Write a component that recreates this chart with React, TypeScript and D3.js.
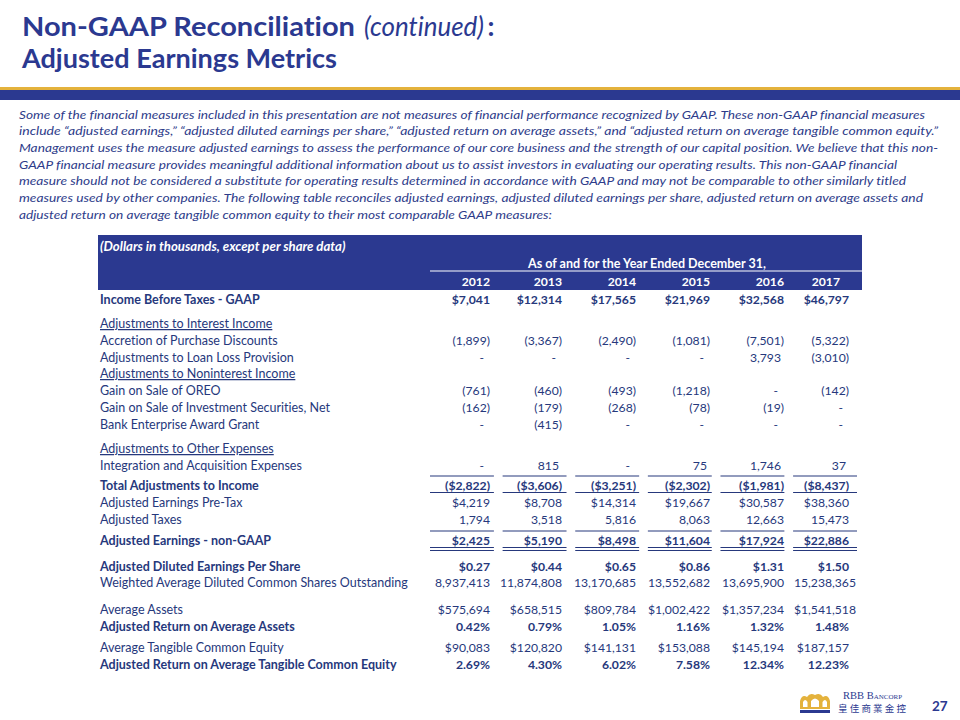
import React from "react";
import * as d3 from "d3";

// ---------- data ----------
const years = ["2012", "2013", "2014", "2015", "2016", "2017"];

const incomeBeforeTaxes = [7041, 12314, 17565, 21969, 32568, 46797];
const accretionPurchaseDiscounts = [-1899, -3367, -2490, -1081, -7501, -5322];
const loanLossProvisionAdj = [null, null, null, null, 3793, -3010];
const gainOnSaleOREO = [-761, -460, -493, -1218, null, -142];
const gainOnSaleInvestmentSecurities = [-162, -179, -268, -78, -19, null];
const bankEnterpriseAwardGrant = [null, -415, null, null, null, null];
const integrationAcquisitionExpenses = [null, 815, null, 75, 1746, 37];
const totalAdjustments = [-2822, -3606, -3251, -2302, -1981, -8437];
const adjustedEarningsPreTax = [4219, 8708, 14314, 19667, 30587, 38360];
const adjustedTaxes = [1794, 3518, 5816, 8063, 12663, 15473];
const adjustedEarningsNonGAAP = [2425, 5190, 8498, 11604, 17924, 22886];
const adjustedDilutedEPS = [0.27, 0.44, 0.65, 0.86, 1.31, 1.5];
const weightedAvgDilutedShares = [8937413, 11874808, 13170685, 13552682, 13695900, 15238365];
const averageAssets = [575694, 658515, 809784, 1002422, 1357234, 1541518];
const adjustedROAA = [0.42, 0.79, 1.05, 1.16, 1.32, 1.48];
const averageTangibleCommonEquity = [90083, 120820, 141131, 153088, 145194, 187157];
const adjustedROATCE = [2.69, 4.3, 6.02, 7.58, 12.34, 12.23];

const paragraphLines = [
  "Some of the financial measures included in this presentation are not measures of financial performance recognized by GAAP. These non-GAAP financial measures",
  "include \u201cadjusted earnings,\u201d \u201cadjusted diluted earnings per share,\u201d \u201cadjusted return on average assets,\u201d and \u201cadjusted return on average tangible common equity.\u201d",
  "Management uses the measure adjusted earnings to assess the performance of our core business and the strength of our capital position. We believe that this non-",
  "GAAP financial measure provides meaningful additional information about us to assist investors in evaluating our operating results. This non-GAAP financial",
  "measure should not be considered a substitute for operating results determined in accordance with GAAP and may not be comparable to other similarly titled",
  "measures used by other companies. The following table reconciles adjusted earnings, adjusted diluted earnings per share, adjusted return on average assets and",
  "adjusted return on average tangible common equity to their most comparable GAAP measures:",
];
const paragraphLineEnds = [925, 938, 938, 897, 906, 923, 552];

// ---------- formatting ----------
const comma = d3.format(",");
type Fmt = "dollar" | "acct" | "dollarParen" | "eps" | "pct" | "int";
function fmt(v: number | null, f: Fmt): string {
  if (v === null) return "-";
  switch (f) {
    case "dollar":
      return "$" + comma(v);
    case "acct":
      return v < 0 ? `(${comma(-v)})` : comma(v);
    case "dollarParen":
      return v < 0 ? `($${comma(-v)})` : "$" + comma(v);
    case "eps":
      return "$" + d3.format(".2f")(v);
    case "pct":
      return d3.format(".2f")(v) + "%";
    case "int":
      return comma(v);
  }
}

type Row = {
  label: string;
  values?: (number | null)[];
  f?: Fmt;
  bold?: boolean;
  section?: boolean;
  y: number;
};

const rows: Row[] = [
  { label: "Income Before Taxes - GAAP", values: incomeBeforeTaxes, f: "dollar", bold: true, y: 300 },
  { label: "Adjustments to Interest Income", section: true, y: 324 },
  { label: "Accretion of Purchase Discounts", values: accretionPurchaseDiscounts, f: "acct", y: 341 },
  { label: "Adjustments to Loan Loss Provision", values: loanLossProvisionAdj, f: "acct", y: 358 },
  { label: "Adjustments to Noninterest Income", section: true, y: 374 },
  { label: "Gain on Sale of OREO", values: gainOnSaleOREO, f: "acct", y: 391 },
  { label: "Gain on Sale of Investment Securities, Net", values: gainOnSaleInvestmentSecurities, f: "acct", y: 408 },
  { label: "Bank Enterprise Award Grant", values: bankEnterpriseAwardGrant, f: "acct", y: 425 },
  { label: "Adjustments to Other Expenses", section: true, y: 449 },
  { label: "Integration and Acquisition Expenses", values: integrationAcquisitionExpenses, f: "acct", y: 466 },
  { label: "Total Adjustments to Income", values: totalAdjustments, f: "dollarParen", bold: true, y: 486 },
  { label: "Adjusted Earnings Pre-Tax", values: adjustedEarningsPreTax, f: "dollar", y: 503 },
  { label: "Adjusted Taxes", values: adjustedTaxes, f: "int", y: 520 },
  { label: "Adjusted Earnings - non-GAAP", values: adjustedEarningsNonGAAP, f: "dollar", bold: true, y: 541 },
  { label: "Adjusted Diluted Earnings Per Share", values: adjustedDilutedEPS, f: "eps", bold: true, y: 567 },
  { label: "Weighted Average Diluted Common Shares Outstanding", values: weightedAvgDilutedShares, f: "int", y: 583 },
  { label: "Average Assets", values: averageAssets, f: "dollar", y: 610 },
  { label: "Adjusted Return on Average Assets", values: adjustedROAA, f: "pct", bold: true, y: 627 },
  { label: "Average Tangible Common Equity", values: averageTangibleCommonEquity, f: "dollar", y: 648 },
  { label: "Adjusted Return on Average Tangible Common Equity", values: adjustedROATCE, f: "pct", bold: true, y: 665 },
];

// ---------- styles ----------
const NAVY = "#2B3990";
const TEXT = "#26387C";
const GOLD = "#E4B23C";
const FONT = "Lato, 'Open Sans', sans-serif";

const colRight = d3.scaleOrdinal<string, number>().domain(years).range([490, 562, 636, 710, 784, 849]);
const seg = d3.scaleBand<string>().domain(years).range([430, 857]).paddingInner(0.12);

export default function App() {
  const lineSegs = (y: number, key: string) =>
    years.map((yr) => (
      <line
        key={key + yr}
        x1={seg(yr)!}
        x2={seg(yr)! + seg.bandwidth()}
        y1={y}
        y2={y}
        stroke={TEXT}
        strokeWidth={1.2}
      />
    ));

  return (
    <svg
      width={960}
      height={720}
      style={{ position: "absolute", left: 0, top: 0, background: "#fff", fontVariantLigatures: "none" }}
      fontFamily={FONT}
    >
      <rect width={960} height={720} fill="#fff" />
      {/* Title */}
      <g fill={NAVY} fontSize={27}>
        <text x={22} y={36} fontWeight={700} textLength={333} lengthAdjust="spacingAndGlyphs">
          Non-GAAP Reconciliation
        </text>
        <text x={364} y={36} fontStyle="italic" textLength={120} lengthAdjust="spacingAndGlyphs">
          (continued)
        </text>
        <text x={487.5} y={36} fontWeight={700}>
          :
        </text>
        <text x={22} y={68} fontWeight={700} textLength={315} lengthAdjust="spacingAndGlyphs">
          Adjusted Earnings Metrics
        </text>
      </g>
      <rect x={0} y={87} width={960} height={3} fill={GOLD} />
      <rect x={0} y={90} width={960} height={10} fill={NAVY} />

      {/* Paragraph */}
      {paragraphLines.map((t, i) => (
        <text
          key={i}
          x={19}
          y={118.5 + i * 16.7}
          fontSize={12}
          fontStyle="italic"
          fill="#2E3C8A"
          textLength={paragraphLineEnds[i] - 19}
          lengthAdjust="spacingAndGlyphs"
        >
          {t}
        </text>
      ))}

      {/* Table header */}
      <rect x={98} y={235} width={764} height={55} fill={NAVY} />
      <text x={100} y={251} fontSize={13.2} fill="#fff" fontWeight={700} fontStyle="italic">
        (Dollars in thousands, except per share data)
      </text>
      <text x={647} y={268} fontSize={12.5} fill="#fff" fontWeight={700} textAnchor="middle">
        As of and for the Year Ended December 31,
      </text>
      <line x1={430} x2={862} y1={271} y2={271} stroke="#fff" strokeWidth={1.2} />
      {years.map((yr, i) => (
        <text
          key={yr}
          x={i === years.length - 1 ? colRight(yr) - 9 : colRight(yr)}
          y={286}
          fontSize={12.2}
          fill="#fff"
          fontWeight={700}
          textAnchor="end"
        >
          {yr}
        </text>
      ))}

      {/* Table rows */}
      {rows.map((r, ri) => (
        <g key={ri} fill={TEXT} fontWeight={r.bold ? 700 : 400}>
          <text x={100} y={r.y + 4} fontSize={12.5} textDecoration={r.section ? "underline" : undefined}>
            {r.label}
          </text>
          {r.values &&
            r.values.map((v, ci) => {
              const yr = years[ci];
              const s = fmt(v, r.f!);
              let dx = 0;
              if (v === null) dx = -6;
              else if (r.f === "acct" && v >= 0) dx = -3;
              if (ci === years.length - 1 && s.length >= 9) dx += 7;
              return (
                <text key={yr} x={colRight(yr) + dx} y={r.y + 4} fontSize={12.2} textAnchor="end">
                  {s}
                </text>
              );
            })}
        </g>
      ))}

      {/* Rules */}
      {lineSegs(476, "a")}
      {lineSegs(492.5, "b")}
      {lineSegs(531, "c")}
      {lineSegs(547.5, "d")}
      {lineSegs(550.5, "e")}

      {/* Footer logo */}
      <g>
        <path
          d="M800,709 L800,701 Q802,694 807,697 Q810,692 815,695 Q820,692 823,697 Q828,694 830,701 L830,709 Z"
          fill={GOLD}
        />
        <path d="M803,707 L803,702 Q805,698 807.5,702 L807.5,707 Z" fill="#fff" />
        <path d="M811,707 L811,701 Q815,696 819,701 L819,707 Z" fill="#fff" />
        <path d="M822.5,707 L822.5,702 Q825,698 827,702 L827,707 Z" fill="#fff" />
        <rect x={800} y={710} width={30} height={3} fill={NAVY} />
        <text
          x={843}
          y={698.5}
          fontFamily="'Liberation Serif', 'DejaVu Serif', serif"
          fontSize={10.5}
          fontVariant="small-caps"
          fill={NAVY}
        >
          RBB Bancorp
        </text>
        <text x={838} y={712} fontFamily="'Noto Sans CJK TC', sans-serif" fontSize={9.5} fill={NAVY} letterSpacing={2.2}>
          皇佳商業金控
        </text>
        <text x={932} y={711} fontSize={13.5} fontWeight={700} fill={NAVY}>
          27
        </text>
      </g>
    </svg>
  );
}
